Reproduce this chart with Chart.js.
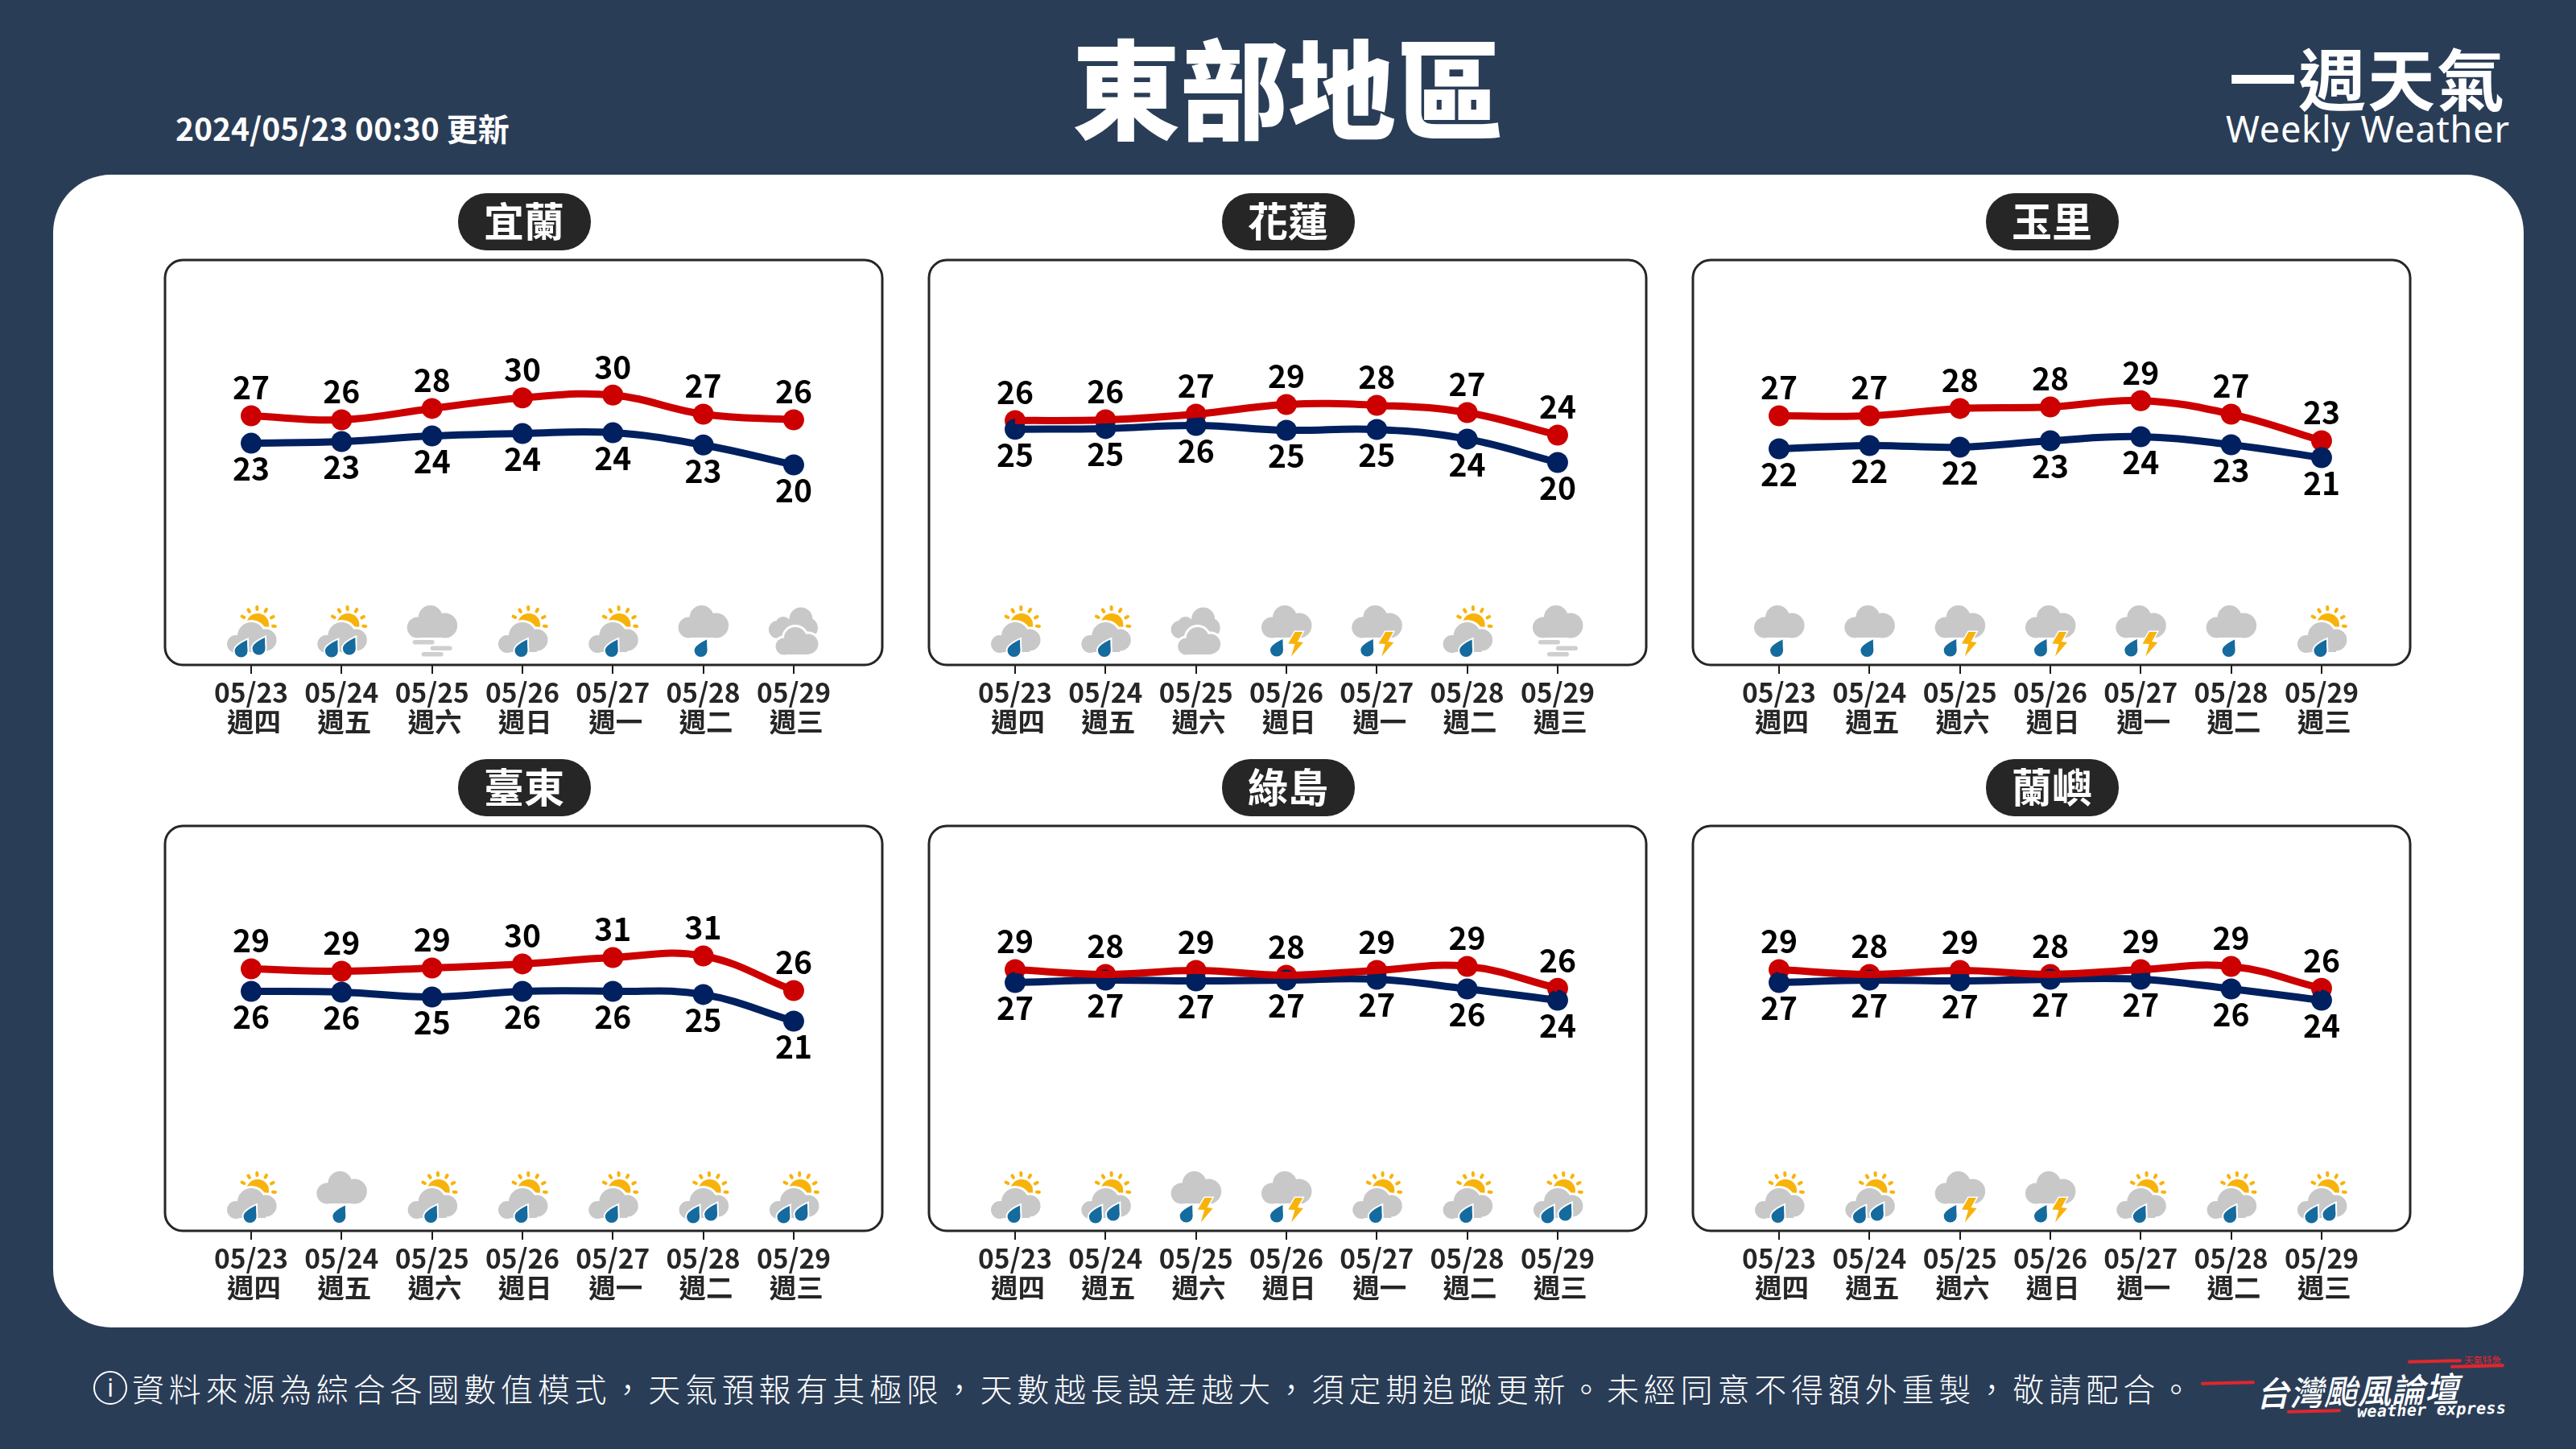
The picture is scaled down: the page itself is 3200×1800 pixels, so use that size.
<!DOCTYPE html>
<html lang="zh-Hant">
<head>
<meta charset="utf-8">
<title>東部地區 一週天氣</title>
<script src="https://cdn.jsdelivr.net/npm/chart.js@4"></script>
<style>
    html, body { margin: 0; padding: 0; background: #2a3d57; }
    #page { position: relative; width: 3200px; height: 1800px; overflow: hidden; background: #2a3d57;
        font-family: "Noto Sans CJK TC", "Noto Sans", sans-serif; color: #fff; }
    #page > * { position: absolute; }
    #card { left: 66px; top: 217px; width: 3069px; height: 1432px; background: #fff; border-radius: 72px; }
    #title { left: 1000px; width: 1200px; top: 25px; text-align: center; font-size: 134px; line-height: 160px; font-weight: 900; }
    #updated { left: 218px; top: 132px; font-size: 39px; line-height: 52px; font-weight: 700; white-space: nowrap; }
    #brand { left: 2769px; top: 40px; font-size: 84px; line-height: 110px; font-weight: 700; letter-spacing: 2px; white-space: nowrap; }
    #brandEn { left: 2765px; top: 130px; font-family: "Noto Sans"; font-size: 45px; line-height: 60px; letter-spacing: .8px; white-space: nowrap; }
    .pill { width: 165px; height: 71px; line-height: 64px; border-radius: 35px; background: #262626; text-align: center;
        font-size: 50px; font-weight: 700; letter-spacing: 0; }
    canvas { display: block; }
    #infoIcon { left: 116px; top: 1703px; width: 38px; height: 38px; border: 2px solid #fff; border-radius: 50%;
        text-align: center; font-family: "Noto Sans"; font-size: 30px; line-height: 38px; }
    #note { left: 164px; top: 1696px; font-size: 40px; line-height: 56px; letter-spacing: 5.8px; font-weight: 300; white-space: nowrap; }
    #logo { left: 2802px; top: 1696px; font-size: 42px; line-height: 60px; font-weight: 500; font-style: italic; white-space: nowrap; transform: rotate(-1.5deg); }
    #logoEn { left: 2928px; top: 1737px; font-family: "DejaVu Sans Mono"; font-size: 20px; line-height: 28px; font-weight: 700; font-style: italic; letter-spacing: .3px; white-space: nowrap; transform: rotate(-1.5deg); }
    #logoTag { left: 3061px; top: 1680px; font-size: 11.5px; line-height: 18px; color: #e2262c; white-space: nowrap; }
    .dash { width: 67px; height: 4px; border-radius: 2px; background: #e2262c; transform: rotate(-1.5deg); }
</style>
</head>
<body>
<div id="page">
    <div id="card"></div>
    <div id="title">東部地區</div>
    <div id="updated">2024/05/23 00:30 更新</div>
    <div id="brand">一週天氣</div>
    <div id="brandEn">Weekly Weather</div>
    <div id="infoIcon">i</div>
    <div id="note">資料來源為綜合各國數值模式，天氣預報有其極限，天數越長誤差越大，須定期追蹤更新。未經同意不得額外重製，敬請配合。</div>
    <div class="dash" style="left:2734px;top:1716px"></div>
    <div class="dash" style="left:2841px;top:1751px"></div>
    <div class="dash" style="left:2991px;top:1689px"></div>
    <div class="dash" style="left:3044px;top:1695px"></div>
    <div id="logo">台灣颱風論壇</div>
    <div id="logoEn">weather express</div>
    <div id="logoTag">天氣特急</div>
</div>

<script>
const dates = ["05/23", "05/24", "05/25", "05/26", "05/27", "05/28", "05/29"];
const weekdays = ["週四", "週五", "週六", "週日", "週一", "週二", "週三"];

// plotted position of each point
const yilanHigh = [27.04, 26.46, 28.08, 29.6, 30.0, 27.27, 26.46];
const yilanLow = [23.1, 23.35, 24.15, 24.5, 24.6, 22.85, 20.0];
const hualienHigh = [26.35, 26.46, 27.27, 28.65, 28.54, 27.5, 24.27];
const hualienLow = [25.1, 25.2, 25.65, 24.96, 25.08, 23.7, 20.35];
const yuliHigh = [27.04, 27.04, 28.08, 28.3, 29.2, 27.27, 23.46];
const yuliLow = [22.3, 22.77, 22.54, 23.46, 24.04, 22.88, 21.04];
const taitungHigh = [28.88, 28.54, 29.0, 29.58, 30.5, 30.73, 25.77];
const taitungLow = [25.65, 25.54, 24.85, 25.65, 25.65, 25.2, 21.38];
const greenHigh = [28.77, 28.08, 28.65, 27.96, 28.65, 29.23, 26.08];
const greenLow = [26.92, 27.27, 27.15, 27.27, 27.38, 26.0, 24.38];
const orchidHigh = [28.77, 28.08, 28.65, 28.08, 28.77, 29.23, 26.08];
const orchidLow = [26.92, 27.27, 27.15, 27.38, 27.38, 26.0, 24.38];

// printed temperatures
const yilanHighText = [27, 26, 28, 30, 30, 27, 26];
const yilanLowText = [23, 23, 24, 24, 24, 23, 20];
const hualienHighText = [26, 26, 27, 29, 28, 27, 24];
const hualienLowText = [25, 25, 26, 25, 25, 24, 20];
const yuliHighText = [27, 27, 28, 28, 29, 27, 23];
const yuliLowText = [22, 22, 22, 23, 24, 23, 21];
const taitungHighText = [29, 29, 29, 30, 31, 31, 26];
const taitungLowText = [26, 26, 25, 26, 26, 25, 21];
const greenHighText = [29, 28, 29, 28, 29, 29, 26];
const greenLowText = [27, 27, 27, 27, 27, 26, 24];
const orchidHighText = [29, 28, 29, 28, 29, 29, 26];
const orchidLowText = [27, 27, 27, 27, 27, 26, 24];

const yilanIcons = ["sunRain2", "sunRain2", "fog", "sunRain", "sunRain", "rain", "cloudy"];
const hualienIcons = ["sunRain", "sunRain", "cloudy", "thunder", "thunder", "sunRain", "fog"];
const yuliIcons = ["rain", "rain", "thunder", "thunder", "thunder", "rain", "sunRain"];
const taitungIcons = ["sunRain", "rain", "sunRain", "sunRain", "sunRain", "sunRain2", "sunRain2"];
const greenIcons = ["sunRain", "sunRain2", "thunder", "thunder", "sunRain", "sunRain", "sunRain2"];
const orchidIcons = ["sunRain", "sunRain2", "thunder", "thunder", "sunRain", "sunRain", "sunRain2"];

const panels = [
    { name: "宜蘭", col: 0, row: 0, high: yilanHigh, low: yilanLow, highText: yilanHighText, lowText: yilanLowText, icons: yilanIcons },
    { name: "花蓮", col: 1, row: 0, high: hualienHigh, low: hualienLow, highText: hualienHighText, lowText: hualienLowText, icons: hualienIcons },
    { name: "玉里", col: 2, row: 0, high: yuliHigh, low: yuliLow, highText: yuliHighText, lowText: yuliLowText, icons: yuliIcons },
    { name: "臺東", col: 0, row: 1, high: taitungHigh, low: taitungLow, highText: taitungHighText, lowText: taitungLowText, icons: taitungIcons },
    { name: "綠島", col: 1, row: 1, high: greenHigh, low: greenLow, highText: greenHighText, lowText: greenLowText, icons: greenIcons },
    { name: "蘭嶼", col: 2, row: 1, high: orchidHigh, low: orchidLow, highText: orchidHighText, lowText: orchidLowText, icons: orchidIcons }
];

const RED = "#cc0000";
const NAVY = "#00205f";
const GREY = "#c8c8c8";
const ORANGE = "#f8b30a";
const BLUE = "#156a9e";
const FONT = '"Noto Sans CJK TC", "Noto Sans", sans-serif';

// cloud = list of circles [x, y, r] plus a flat base
const bigCloud = { lobes: [[-2, -59, 15], [-18, -46.5, 13], [16, -49, 15.5]], base: [-18, 16, -50, -34] };
const lowCloud = { lobes: [[0, -36, 17], [-19, -26, 11], [18, -31, 13.5]], base: [-19, 18, -34, -16] };
const backCloud = { lobes: [[9, -57, 14.5], [-13, -50, 10], [-20, -44, 11], [17, -46, 13]], base: [-20, 26, -50, -33] };
const frontCloud = { lobes: [[2, -33, 14], [-12, -23, 10.5], [18, -26, 12.5]], base: [-12, 19, -30, -13] };

function fillCloud(ctx, cloud, halo) {
    ctx.beginPath();
    cloud.lobes.forEach(l => {
        ctx.moveTo(l[0] + l[2] + halo, l[1]);
        ctx.arc(l[0], l[1], l[2] + halo, 0, Math.PI * 2);
    });
    let b = cloud.base;
    ctx.rect(b[0] - halo, b[2] - halo, b[1] - b[0] + halo * 2, b[3] - b[2] + halo * 2);
    ctx.fill();
}

function drawCloud(ctx, cloud, outlined) {
    if (outlined) {
        ctx.fillStyle = "#fff";
        fillCloud(ctx, cloud, 3);
    }
    ctx.fillStyle = GREY;
    fillCloud(ctx, cloud, 0);
}

function drawDrop(ctx, x, y, halo) {
    ctx.save();
    ctx.translate(x, y);
    ctx.beginPath();
    ctx.moveTo(7.5, -21);
    ctx.quadraticCurveTo(-8, -14, -8, -7.5);
    ctx.arc(0, -7.5, 8, Math.PI, 0, true);
    ctx.quadraticCurveTo(7.5, -13, 7.5, -21);
    ctx.closePath();
    if (halo) {
        ctx.strokeStyle = "#fff";
        ctx.lineWidth = 4;
        ctx.stroke();
    }
    ctx.fillStyle = BLUE;
    ctx.fill();
    ctx.restore();
}

function drawSun(ctx) {
    ctx.fillStyle = ORANGE;
    ctx.beginPath();
    ctx.arc(8, -50, 14, 0, Math.PI * 2);
    ctx.fill();
    ctx.strokeStyle = ORANGE;
    ctx.lineWidth = 4;
    ctx.lineCap = "round";
    [-152, -122, -92, -60, -27, 5].forEach(deg => {
        let a = deg * Math.PI / 180;
        ctx.beginPath();
        ctx.moveTo(8 + Math.cos(a) * 19, -50 + Math.sin(a) * 19);
        ctx.lineTo(8 + Math.cos(a) * 22, -50 + Math.sin(a) * 22);
        ctx.stroke();
    });
}

function drawBolt(ctx) {
    let pts = [[10.7, -41], [20.3, -41], [13.8, -29], [21, -28], [6, -10.5], [10.5, -26], [2.3, -26.5]];
    ctx.beginPath();
    pts.forEach((p, i) => i ? ctx.lineTo(p[0], p[1]) : ctx.moveTo(p[0], p[1]));
    ctx.closePath();
    ctx.strokeStyle = "#fff";
    ctx.lineWidth = 3;
    ctx.stroke();
    ctx.fillStyle = ORANGE;
    ctx.fill();
}

function drawFogBars(ctx) {
    ctx.fillStyle = "#cfcfcf";
    [[-24, -31, 27], [-2, -23.5, 27], [-13, -16, 27]].forEach(b => {
        ctx.beginPath();
        ctx.roundRect(b[0], b[1], b[2], 5.5, 2.7);
        ctx.fill();
    });
}

// one weather icon, origin = tick x on the bottom line of the frame
function drawIcon(ctx, type) {
    if (type === "sunRain" || type === "sunRain2") {
        drawSun(ctx);
        drawCloud(ctx, lowCloud, true);
        if (type === "sunRain") {
            drawDrop(ctx, -1.5, -10.5, true);
        } else {
            drawDrop(ctx, -12.5, -10, true);
            drawDrop(ctx, 9.5, -13, true);
        }
    } else if (type === "rain") {
        drawCloud(ctx, bigCloud, false);
        drawDrop(ctx, -3, -10.5, false);
    } else if (type === "thunder") {
        drawCloud(ctx, bigCloud, false);
        drawDrop(ctx, -12, -11, false);
        drawBolt(ctx);
    } else if (type === "fog") {
        drawCloud(ctx, bigCloud, false);
        drawFogBars(ctx);
    } else if (type === "cloudy") {
        drawCloud(ctx, backCloud, false);
        drawCloud(ctx, frontCloud, true);
    }
}

// rounded frame of the plot
const framePlugin = {
    id: "frame",
    beforeDatasetsDraw(chart) {
        let { ctx, chartArea: a } = chart;
        ctx.save();
        ctx.beginPath();
        ctx.roundRect(a.left, a.top, a.right - a.left, a.bottom - a.top, 22);
        ctx.strokeStyle = "#262626";
        ctx.lineWidth = 3;
        ctx.stroke();
        ctx.restore();
    }
};

// temperatures above / below the points and icons along the bottom
const markPlugin = {
    id: "marks",
    afterDatasetsDraw(chart, args, opts) {
        let { ctx, chartArea: a, scales } = chart;
        let highPts = chart.getDatasetMeta(0).data;
        let lowPts = chart.getDatasetMeta(1).data;
        ctx.save();
        ctx.font = "700 39px " + FONT;
        ctx.fillStyle = "#000";
        ctx.textAlign = "center";
        ctx.textBaseline = "middle";
        highPts.forEach((p, i) => ctx.fillText(opts.highText[i], p.x, p.y - 35));
        lowPts.forEach((p, i) => ctx.fillText(opts.lowText[i], p.x, p.y + 32));
        ctx.restore();
        opts.icons.forEach((type, i) => {
            ctx.save();
            ctx.translate(scales.x.getPixelForValue(i), a.bottom);
            drawIcon(ctx, type);
            ctx.restore();
        });
    }
};

const page = document.getElementById("page");
const FRAME_W = 891, FRAME_H = 503, SIDE = 20, TOP = 4, AXIS_H = 100;

panels.forEach(panel => {
    let frameX = 205 + panel.col * 949;
    let frameY = 323 + panel.row * 703;

    let pill = document.createElement("div");
    pill.className = "pill";
    pill.textContent = panel.name;
    pill.style.left = (frameX + FRAME_W / 2 - 82) + "px";
    pill.style.top = (frameY - 83) + "px";
    page.appendChild(pill);

    let canvas = document.createElement("canvas");
    canvas.width = FRAME_W + SIDE * 2;
    canvas.height = FRAME_H + TOP + AXIS_H;
    canvas.style.left = (frameX - SIDE) + "px";
    canvas.style.top = (frameY - TOP) + "px";
    page.appendChild(canvas);

    let xy = arr => arr.map((v, i) => ({ x: i, y: v }));

    new Chart(canvas.getContext("2d"), {
        type: "line",
        data: {
            datasets: [
                { label: "高溫線", data: xy(panel.high), borderColor: RED, borderWidth: 9, pointRadius: 0, tension: 0.4 },
                { label: "低溫", data: xy(panel.low), borderColor: NAVY, backgroundColor: NAVY, borderWidth: 9, pointRadius: 13, pointBorderWidth: 0, tension: 0.4 },
                { label: "高溫", data: xy(panel.high), showLine: false, borderColor: RED, backgroundColor: RED, pointRadius: 13, pointBorderWidth: 0 }
            ]
        },
        options: {
            responsive: false,
            animation: false,
            devicePixelRatio: 1,
            layout: { autoPadding: false, padding: { left: SIDE, right: SIDE, top: TOP, bottom: 0 } },
            plugins: {
                legend: { display: false },
                tooltip: { enabled: false },
                marks: { highText: panel.highText, lowText: panel.lowText, icons: panel.icons }
            },
            scales: {
                x: {
                    type: "linear",
                    min: -0.953,
                    max: 6.98,
                    afterBuildTicks: axis => { axis.ticks = dates.map((d, i) => ({ value: i })); },
                    afterFit: axis => { axis.height = AXIS_H; },
                    grid: { drawOnChartArea: false, tickLength: 11, color: "#1a1a1a", lineWidth: 2 },
                    border: { display: false },
                    ticks: {
                        autoSkip: false,
                        maxRotation: 0,
                        padding: 5,
                        color: "#262626",
                        font: { family: FONT, size: 33.5, weight: "700", lineHeight: 1.08 },
                        callback: v => [dates[v], "\u2009" + weekdays[v]]
                    }
                },
                y: { display: false, min: -8.66, max: 49.35 }
            }
        },
        plugins: [framePlugin, markPlugin]
    });
});
</script>
</body>
</html>
